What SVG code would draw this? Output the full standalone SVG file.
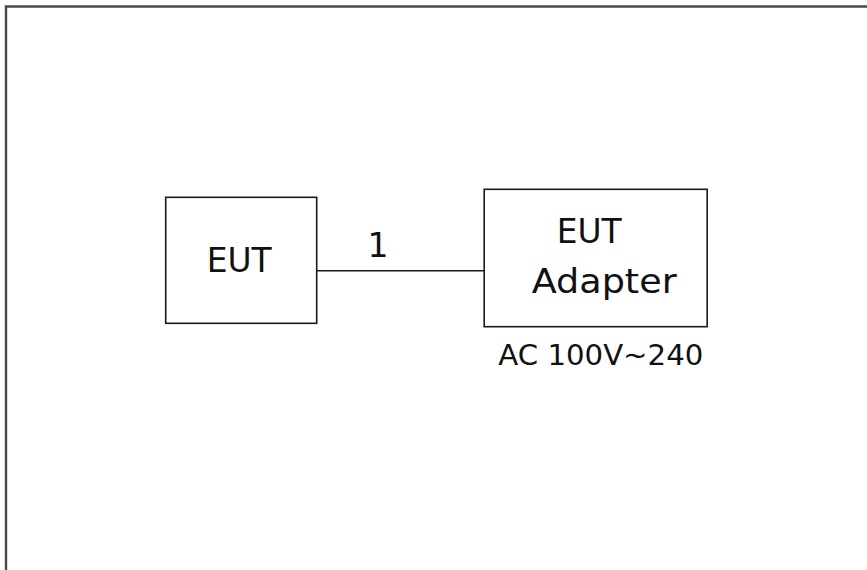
<svg xmlns="http://www.w3.org/2000/svg" width="867" height="570" viewBox="0 0 867 570">
<style>
.box{fill:#fff;stroke:#1a1a1a;stroke-width:1.6}
.lbl{font-family:"DejaVu Sans","Liberation Sans",sans-serif;fill:#111;text-anchor:middle}
.big{font-size:33px}
.small{font-size:29px}
</style>
<rect x="0" y="0" width="867" height="570" fill="#fff"/>
<path d="M6,570 V6.5 H867" fill="none" stroke="#4a4a4a" stroke-width="2.4"/>
<g id="connectors">
<line x1="317" y1="270.7" x2="485" y2="270.7" stroke="#1a1a1a" stroke-width="1.6"/>
<text class="lbl big" x="378" y="256.7">1</text>
</g>
<g id="eut">
<rect class="box" x="165.7" y="197.3" width="151" height="126"/>
<text class="lbl big" x="239.2" y="271.7" textLength="65" lengthAdjust="spacingAndGlyphs">EUT</text>
</g>
<g id="adapter">
<rect class="box" x="484.2" y="189.3" width="223" height="137.4"/>
<text class="lbl big" x="589.2" y="243.3" textLength="65" lengthAdjust="spacingAndGlyphs">EUT</text>
<text class="lbl big" x="604.2" y="293.3" textLength="145" lengthAdjust="spacingAndGlyphs">Adapter</text>
</g>
<g id="ac">
<text class="lbl small" x="600.8" y="365" textLength="205" lengthAdjust="spacingAndGlyphs">AC 100V~240</text>
</g>
</svg>
